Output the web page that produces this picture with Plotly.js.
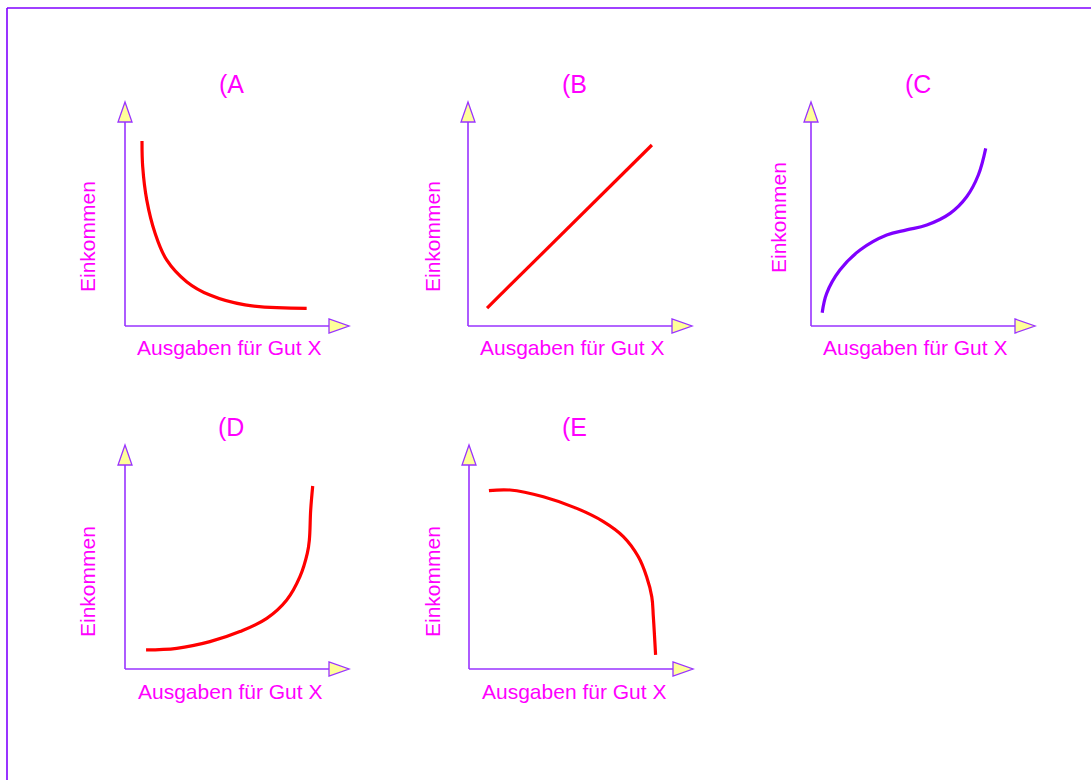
<!DOCTYPE html>
<html>
<head>
<meta charset="utf-8">
<script src="https://cdn.plot.ly/plotly-3.0.1.min.js"></script>
<style>
  html, body { margin: 0; padding: 0; background: #ffffff; }
  #chart { width: 1091px; height: 780px; }
</style>
</head>
<body>
<div id="chart"></div>
<script>
// ---------- data ----------
const panelLabels = ["(A", "(B", "(C", "(D", "(E"];
const yAxisLabel = "Einkommen";
const xAxisLabel = "Ausgaben für Gut X";

// (A) falling convex curve
const curveA_x = [7.6, 7.9, 9.7, 13.4, 18.6, 27.5, 37.9, 53.6, 81.1];
const curveA_y = [82.6, 71.1, 56.3, 41.5, 29.5, 19.8, 13.8, 9.4, 7.9];
// (B) straight rising line
const curveB_x = [8.5, 82.1];
const curveB_y = [8.0, 80.8];
// (C) S-shaped curve
const curveC_x = [5.0, 7.0, 12.9, 21.9, 33.8, 42.7, 51.7, 62.1, 69.5, 74.7, 78.0];
const curveC_y = [5.9, 14.6, 25.0, 33.9, 40.6, 42.9, 45.1, 50.3, 57.7, 67.4, 79.3];
// (D) rising convex curve
const curveD_x = [9.4, 23.1, 37.9, 51.3, 63.3, 72.2, 78.1, 81.4, 82.3, 82.9, 83.8];
const curveD_y = [8.5, 9.2, 12.2, 16.7, 22.6, 30.8, 41.2, 51.7, 57.6, 71.0, 81.7];
// (E) falling concave curve
const curveE_x = [8.9, 18.3, 33.2, 48.1, 60.0, 68.9, 75.6, 79.3, 81.6, 82.3, 83.3];
const curveE_y = [79.6, 79.9, 76.9, 71.7, 65.8, 59.1, 50.1, 41.2, 32.3, 23.3, 6.3];

const curvesX = [curveA_x, curveB_x, curveC_x, curveD_x, curveE_x];
const curvesY = [curveA_y, curveB_y, curveC_y, curveD_y, curveE_y];
const curveColors = ["#ff0000", "#ff0000", "#7f00ff", "#ff0000", "#ff0000"];

// ---------- layout geometry ----------
const W = 1091, H = 780;
const K = 2.24;            // pixels per data unit
const LO = -6, HI = 102;   // axis ranges (padding for arrowheads)
const AXIS_END = 100;      // arrow tip in data units
const HEAD_LEN = 20 / K;   // arrowhead length
const HEAD_HALF = 7 / K;   // arrowhead half width

// origin pixel positions of each panel
const origins = [
  {ox: 125, oy: 326}, {ox: 468, oy: 326}, {ox: 811, oy: 326},
  {ox: 125, oy: 669}, {ox: 469, oy: 669}
];
// text positions (pixels)
const titlePos = [[231, 84], [574, 84], [918, 84], [231, 427], [574, 427]];
const yLabPos  = [[87, 237], [432, 237], [778, 218], [87, 582], [432, 582]];
const xLabPos  = [[229, 347], [572, 347], [915, 347], [230, 691], [574, 691]];

const AXIS_COLOR = "#9933ff";
const HEAD_FILL = "#ffff99";
const TEXT_COLOR = "#ff00ff";
const FONT = "Liberation Sans, Arial, Helvetica, sans-serif";

const traces = [];
const shapes = [];
const annotations = [];
const layout = {
  width: W, height: H,
  margin: {l: 0, r: 0, t: 0, b: 0},
  paper_bgcolor: "#ffffff",
  plot_bgcolor: "rgba(0,0,0,0)",
  showlegend: false,
  shapes: shapes,
  annotations: annotations
};

origins.forEach((o, i) => {
  const n = i + 1;
  const xa = n === 1 ? "x" : "x" + n;
  const ya = n === 1 ? "y" : "y" + n;
  const xkey = n === 1 ? "xaxis" : "xaxis" + n;
  const ykey = n === 1 ? "yaxis" : "yaxis" + n;
  layout[xkey] = {
    domain: [(o.ox + LO * K) / W, (o.ox + HI * K) / W],
    range: [LO, HI], visible: false, fixedrange: true, anchor: ya
  };
  layout[ykey] = {
    domain: [1 - (o.oy - LO * K) / H, 1 - (o.oy - HI * K) / H],
    range: [LO, HI], visible: false, fixedrange: true, anchor: xa
  };

  // axis lines
  shapes.push({type: "line", xref: xa, yref: ya, x0: 0, y0: 0, x1: 0, y1: AXIS_END - HEAD_LEN,
               line: {color: AXIS_COLOR, width: 1.6}, layer: "below"});
  shapes.push({type: "line", xref: xa, yref: ya, x0: 0, y0: 0, x1: AXIS_END - HEAD_LEN, y1: 0,
               line: {color: AXIS_COLOR, width: 1.6}, layer: "below"});
  // arrowheads
  const b = AXIS_END - HEAD_LEN;
  shapes.push({type: "path", xref: xa, yref: ya,
               path: `M ${-HEAD_HALF},${b} L ${HEAD_HALF},${b} L 0,${AXIS_END} Z`,
               fillcolor: HEAD_FILL, line: {color: AXIS_COLOR, width: 1.3}, layer: "below"});
  shapes.push({type: "path", xref: xa, yref: ya,
               path: `M ${b},${-HEAD_HALF} L ${b},${HEAD_HALF} L ${AXIS_END},0 Z`,
               fillcolor: HEAD_FILL, line: {color: AXIS_COLOR, width: 1.3}, layer: "below"});

  // curve
  traces.push({
    type: "scatter", mode: "lines", xaxis: xa, yaxis: ya,
    x: curvesX[i], y: curvesY[i],
    line: {color: curveColors[i], width: 3.2, shape: i === 1 ? "linear" : "spline", smoothing: 1.1},
    hoverinfo: "skip"
  });

  // texts
  annotations.push({xref: "paper", yref: "paper", x: titlePos[i][0] / W, y: 1 - titlePos[i][1] / H,
    text: panelLabels[i], showarrow: false, xanchor: "center", yanchor: "middle",
    font: {family: FONT, size: 25, color: TEXT_COLOR}});
  annotations.push({xref: "paper", yref: "paper", x: yLabPos[i][0] / W, y: 1 - yLabPos[i][1] / H,
    text: yAxisLabel, showarrow: false, textangle: -90, xanchor: "center", yanchor: "middle",
    font: {family: FONT, size: 21, color: TEXT_COLOR}});
  annotations.push({xref: "paper", yref: "paper", x: xLabPos[i][0] / W, y: 1 - xLabPos[i][1] / H,
    text: xAxisLabel, showarrow: false, xanchor: "center", yanchor: "middle",
    font: {family: FONT, size: 21, color: TEXT_COLOR}});
});

// outer frame (top and left edges visible)
shapes.push({type: "line", xref: "paper", yref: "paper", x0: 7 / W, x1: 1, y0: 1 - 8 / H, y1: 1 - 8 / H,
             line: {color: "#8000ff", width: 1.6}});
shapes.push({type: "line", xref: "paper", yref: "paper", x0: 7 / W, x1: 7 / W, y0: 1 - 8 / H, y1: 0,
             line: {color: "#8000ff", width: 1.6}});

Plotly.newPlot("chart", traces, layout, {staticPlot: true, displayModeBar: false});
</script>
</body>
</html>
